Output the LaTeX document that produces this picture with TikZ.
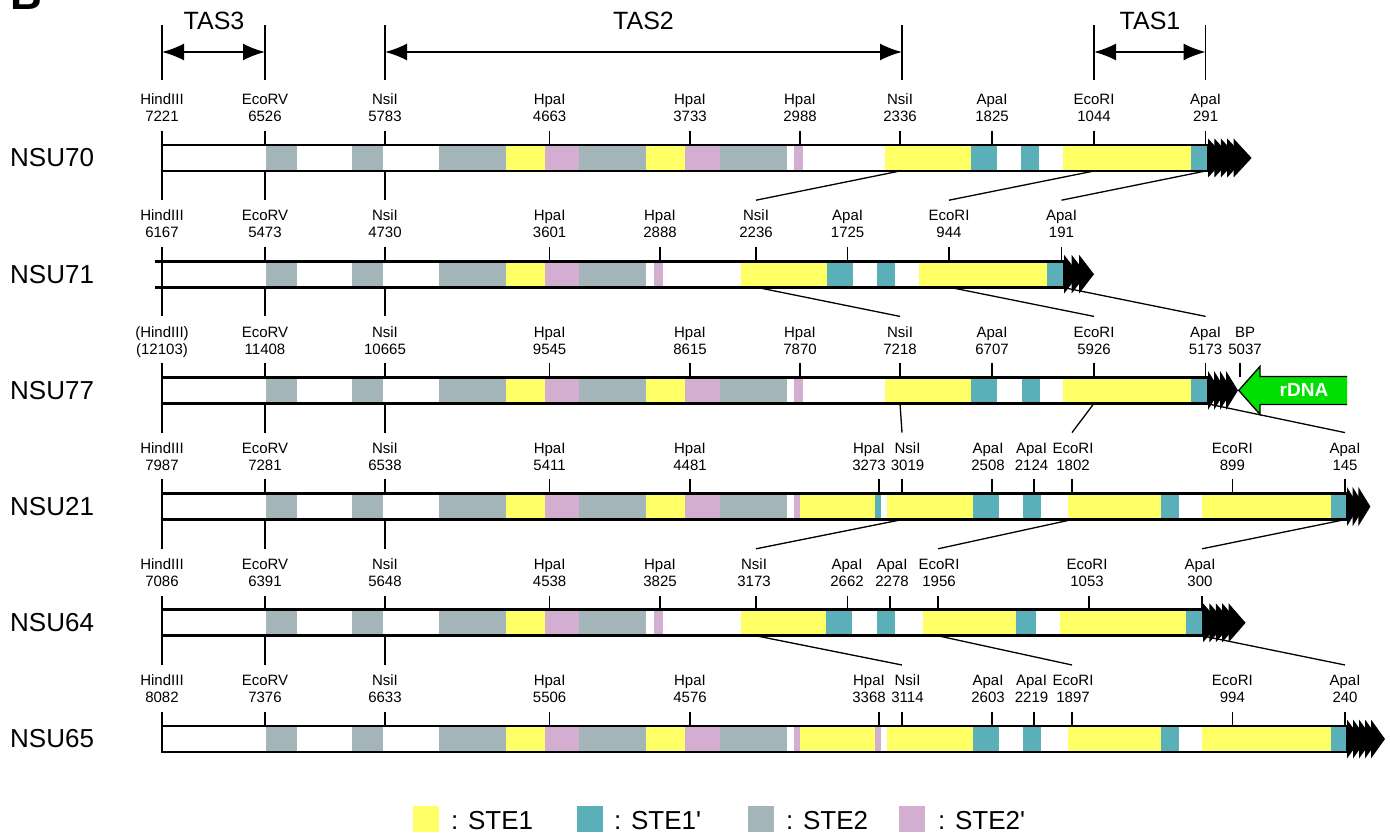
\documentclass[tikz,border=0pt]{standalone}
\usepackage{fontspec}
\setmainfont{Liberation Sans}[Ligatures=TeXOff]
\usetikzlibrary{arrows.meta,calc}
\definecolor{ste1}{RGB}{255,255,102}
\definecolor{ste1p}{RGB}{91,175,184}
\definecolor{ste2}{RGB}{163,181,184}
\definecolor{ste2p}{RGB}{212,174,208}
\definecolor{rdna}{RGB}{0,224,0}
\tikzset{
  lab/.style={font=\fontsize{15}{17}\selectfont, align=center, anchor=south, inner sep=0pt, text depth=0pt},
  rowlab/.style={font=\fontsize{26}{30}\selectfont, anchor=west, inner sep=0pt},
  taslab/.style={font=\fontsize{25}{28}\selectfont, anchor=base, inner sep=0pt},
  leglab/.style={font=\fontsize{26}{30}\selectfont, anchor=base west, inner sep=0pt},
  tickline/.style={line width=1.3pt},
  conn/.style={line width=1.3pt},
  barline/.style={line width=2.8pt},
  tasv/.style={line width=1.2pt},
  tasarrow/.style={line width=1.8pt, {Latex[length=22pt,width=17pt]}-{Latex[length=22pt,width=17pt]}},
}
\newcommand\rowY{158}
\newcommand\rowid{r1}
\newcommand\setrow[2]{\renewcommand\rowid{#1}\renewcommand\rowY{#2}}
\newcommand\msite[5]{%
  \coordinate (\rowid-#1-t) at (#2,\rowY-13);
  \coordinate (\rowid-#1-b) at (#2,\rowY+13);
  \coordinate (\rowid-#1-l) at (#2,\rowY-74);
  \node[lab] (\rowid-#1-n) at (#3,\rowY-36) {#4\\#5};
  \draw[tickline] (\rowid-#1-t) -- ++(0,-14.3);
}
\newcommand\mseg[3]{\fill[#3] (#1,\rowY-13) rectangle (#2,\rowY+13);}
\newcommand\mtelo[4]{%
  \foreach \i in {0,...,#2}{%
    \fill ({#1+\i*#3},\rowY-19.5) -- ++(#4,19.5) -- ({#1+\i*#3},\rowY+19.5) -- cycle;}}
\newcommand\leftA{%
  \mseg{266}{297}{ste2}\mseg{352}{383}{ste2}\mseg{439}{506}{ste2}
  \mseg{506}{545}{ste1}\mseg{545}{579}{ste2p}\mseg{579}{646}{ste2}
  \mseg{646}{685}{ste1}\mseg{685}{720}{ste2p}\mseg{720}{787}{ste2}}
\newcommand\leftB{%
  \mseg{266}{297}{ste2}\mseg{352}{383}{ste2}\mseg{439}{506}{ste2}
  \mseg{506}{545}{ste1}\mseg{545}{579}{ste2p}\mseg{579}{646}{ste2}
  \mseg{654}{663}{ste2p}}
\begin{document}
\begin{tikzpicture}[x=1pt,y=-1pt]
\clip (0,0) rectangle (1390,834);
\fill[white] (0,0) rectangle (1390,834);
\node[anchor=base west, inner sep=0pt, font=\bfseries\fontsize{44}{44}\selectfont] (panel) at (10,10) {B};

% TAS brackets
\coordinate (t3a) at (162,52); \coordinate (t3b) at (265,52);
\coordinate (t2a) at (385,52); \coordinate (t2b) at (902,52);
\coordinate (t1a) at (1094,52); \coordinate (t1b) at (1205.6,52);
\foreach \c in {t3a,t3b,t2a,t2b,t1a,t1b} \draw[tasv] (\c) ++(0,-27) -- ++(0,55);
\draw[tasarrow] (t3a) -- (t3b);
\draw[tasarrow] (t2a) -- (t2b);
\draw[tasarrow] (t1a) -- (t1b);
\node[taslab] (tas3) at (214,30) {TAS3};
\node[taslab] (tas2) at (643.5,30) {TAS2};
\node[taslab] (tas1) at (1150,30) {TAS1};

% ---------------- NSU70
\setrow{r1}{158}
\leftA
\mseg{794}{803}{ste2p}\mseg{885}{971}{ste1}\mseg{971}{997}{ste1p}\mseg{1021}{1039}{ste1p}
\mseg{1063}{1191}{ste1}\mseg{1191}{1208}{ste1p}
\draw[barline] (162,\rowY-13) rectangle (1208,\rowY+13);
\node[rowlab] (nsu70) at (10,\rowY) {NSU70};
\msite{hind}{162}{162}{HindIII}{7221}
\msite{ecorv}{265}{265}{EcoRV}{6526}
\msite{nsia}{385}{385}{NsiI}{5783}
\msite{hpaa}{549.6}{549.6}{HpaI}{4663}
\msite{hpab}{690}{690}{HpaI}{3733}
\msite{hpac}{800}{800}{HpaI}{2988}
\msite{nsib}{900}{900}{NsiI}{2336}
\msite{apaa}{992}{992}{ApaI}{1825}
\msite{ecori}{1094}{1094}{EcoRI}{1044}
\msite{apaz}{1205.6}{1205.6}{ApaI}{291}

% ---------------- NSU71
\setrow{r2}{274.2}
\leftB
\mseg{741}{827}{ste1}\mseg{827}{853}{ste1p}\mseg{877}{895}{ste1p}
\mseg{919}{1047}{ste1}\mseg{1047}{1064}{ste1p}
\draw[barline] (162,\rowY-13) rectangle (1064,\rowY+13);
\draw[barline] (155,\rowY-13) -- (162,\rowY-13) (155,\rowY+13) -- (162,\rowY+13);
\node[rowlab] (nsu71) at (10,\rowY) {NSU71};
\msite{hind}{162}{162}{HindIII}{6167}
\msite{ecorv}{265}{265}{EcoRV}{5473}
\msite{nsia}{385}{385}{NsiI}{4730}
\msite{hpaa}{549.6}{549.6}{HpaI}{3601}
\msite{hpab}{660}{660}{HpaI}{2888}
\msite{nsib}{756}{756}{NsiI}{2236}
\msite{apaa}{847.6}{847.6}{ApaI}{1725}
\msite{ecori}{949}{949}{EcoRI}{944}
\msite{apaz}{1061.5}{1061.5}{ApaI}{191}

% ---------------- NSU77
\setrow{r3}{390.4}
\leftA
\mseg{794}{803}{ste2p}\mseg{885}{971}{ste1}\mseg{971}{997}{ste1p}\mseg{1022}{1040}{ste1p}
\mseg{1063}{1191}{ste1}\mseg{1191}{1208}{ste1p}
\draw[barline] (162,\rowY-13) rectangle (1208,\rowY+13);
\node[rowlab] (nsu77) at (10,\rowY) {NSU77};
\msite{hind}{162}{162}{(HindIII)}{(12103)}
\msite{ecorv}{265}{265}{EcoRV}{11408}
\msite{nsia}{385}{385}{NsiI}{10665}
\msite{hpaa}{549.6}{549.6}{HpaI}{9545}
\msite{hpab}{690}{690}{HpaI}{8615}
\msite{hpac}{800}{800}{HpaI}{7870}
\msite{nsib}{900}{900}{NsiI}{7218}
\msite{apaa}{992}{992}{ApaI}{6707}
\msite{ecori}{1094}{1094}{EcoRI}{5926}
\msite{apaz}{1205.6}{1205.6}{ApaI}{5173}
\msite{bp}{1240}{1245}{BP}{5037}

% ---------------- NSU21
\setrow{r4}{506.6}
\leftA
\mseg{794}{800}{ste2p}\mseg{800}{874.5}{ste1}\mseg{874.5}{881}{ste1p}
\mseg{887}{973}{ste1}\mseg{973}{999}{ste1p}\mseg{1023}{1041}{ste1p}
\mseg{1068}{1161}{ste1}\mseg{1161}{1179}{ste1p}
\mseg{1202}{1331}{ste1}\mseg{1331}{1347}{ste1p}
\draw[barline] (162,\rowY-13) rectangle (1347,\rowY+13);
\node[rowlab] (nsu21) at (10,\rowY) {NSU21};
\msite{hind}{162}{162}{HindIII}{7987}
\msite{ecorv}{265}{265}{EcoRV}{7281}
\msite{nsia}{385}{385}{NsiI}{6538}
\msite{hpaa}{549.6}{549.6}{HpaI}{5411}
\msite{hpab}{690}{690}{HpaI}{4481}
\msite{hpac}{879}{869}{HpaI}{3273}
\msite{nsib}{902}{907.5}{NsiI}{3019}
\msite{apaa}{992}{988}{ApaI}{2508}
\msite{apab}{1034}{1031.5}{ApaI}{2124}
\msite{ecori}{1072}{1073}{EcoRI}{1802}
\msite{ecorib}{1232.4}{1232.4}{EcoRI}{899}
\msite{apaz}{1345}{1345}{ApaI}{145}

% ---------------- NSU64
\setrow{r5}{622.8}
\leftB
\mseg{741}{826}{ste1}\mseg{826}{852}{ste1p}\mseg{877}{895}{ste1p}
\mseg{923}{1016}{ste1}\mseg{1016}{1036}{ste1p}
\mseg{1060}{1186}{ste1}\mseg{1186}{1203}{ste1p}
\draw[barline] (162,\rowY-13) rectangle (1203,\rowY+13);
\node[rowlab] (nsu64) at (10,\rowY) {NSU64};
\msite{hind}{162}{162}{HindIII}{7086}
\msite{ecorv}{265}{265}{EcoRV}{6391}
\msite{nsia}{385}{385}{NsiI}{5648}
\msite{hpaa}{549.6}{549.6}{HpaI}{4538}
\msite{hpab}{660}{660}{HpaI}{3825}
\msite{nsib}{756}{754}{NsiI}{3173}
\msite{apaa}{847.6}{847}{ApaI}{2662}
\msite{apab}{890}{892}{ApaI}{2278}
\msite{ecori}{938}{939}{EcoRI}{1956}
\msite{ecorib}{1089}{1087}{EcoRI}{1053}
\msite{apaz}{1202}{1200}{ApaI}{300}

% ---------------- NSU65
\setrow{r6}{739}
\leftA
\mseg{794}{800}{ste2p}\mseg{800}{874.5}{ste1}\mseg{874.5}{881}{ste2p}
\mseg{887}{973}{ste1}\mseg{973}{999}{ste1p}\mseg{1023}{1041}{ste1p}
\mseg{1068}{1161}{ste1}\mseg{1161}{1179}{ste1p}
\mseg{1202}{1331}{ste1}\mseg{1331}{1347}{ste1p}
\draw[barline] (162,\rowY-13) rectangle (1347,\rowY+13);
\node[rowlab] (nsu65) at (10,\rowY) {NSU65};
\msite{hind}{162}{162}{HindIII}{8082}
\msite{ecorv}{265}{265}{EcoRV}{7376}
\msite{nsia}{385}{385}{NsiI}{6633}
\msite{hpaa}{549.6}{549.6}{HpaI}{5506}
\msite{hpab}{690}{690}{HpaI}{4576}
\msite{hpac}{879}{869}{HpaI}{3368}
\msite{nsib}{902}{907.5}{NsiI}{3114}
\msite{apaa}{992}{988}{ApaI}{2603}
\msite{apab}{1034}{1031.5}{ApaI}{2219}
\msite{ecori}{1072}{1073}{EcoRI}{1897}
\msite{ecorib}{1232.4}{1232.4}{EcoRI}{994}
\msite{apaz}{1345}{1345}{ApaI}{240}

% ---------------- connectors between rows
\foreach \a/\b in {r1/r2,r2/r3,r3/r4,r4/r5,r5/r6}
  \foreach \k in {hind,ecorv,nsia,nsib,ecori,apaz}
    \draw[conn] (\a-\k-b) -- (\b-\k-l);

% ---------------- telomeres
\setrow{r1}{158}\mtelo{1208}{4}{6.4}{18}
\setrow{r2}{274.2}\mtelo{1064}{2}{7.5}{15}
\setrow{r3}{390.4}\mtelo{1208}{3}{6}{12}
\setrow{r4}{506.6}\mtelo{1347}{2}{5.7}{12}
\setrow{r5}{622.8}\mtelo{1203}{4}{6.4}{17}
\setrow{r6}{739}\mtelo{1347}{4}{6}{14}

% ---------------- rDNA arrow
\filldraw[fill=rdna, draw=black, line width=1.3pt]
  (1347,376.4) -- (1260,376.4) -- (1260,366.4) -- (1238.7,390.4) -- (1260,414.4) -- (1260,404.4) -- (1347,404.4);
\node[text=white, font=\bfseries\fontsize{19}{20}\selectfont, inner sep=0pt] (rdnalab) at (1304,390.4) {rDNA};

% ---------------- legend
\fill[ste1] (413,806) rectangle (439,832);
\node[leglab] (leg1) at (451,829) {: STE1};
\fill[ste1p] (577,806) rectangle (603,832);
\node[leglab] (leg2) at (614,829) {: STE1'};
\fill[ste2] (748,806) rectangle (774,832);
\node[leglab] (leg3) at (786,829) {: STE2};
\fill[ste2p] (899,806) rectangle (925,832);
\node[leglab] (leg4) at (938,829) {: STE2'};
\end{tikzpicture}
\end{document}
